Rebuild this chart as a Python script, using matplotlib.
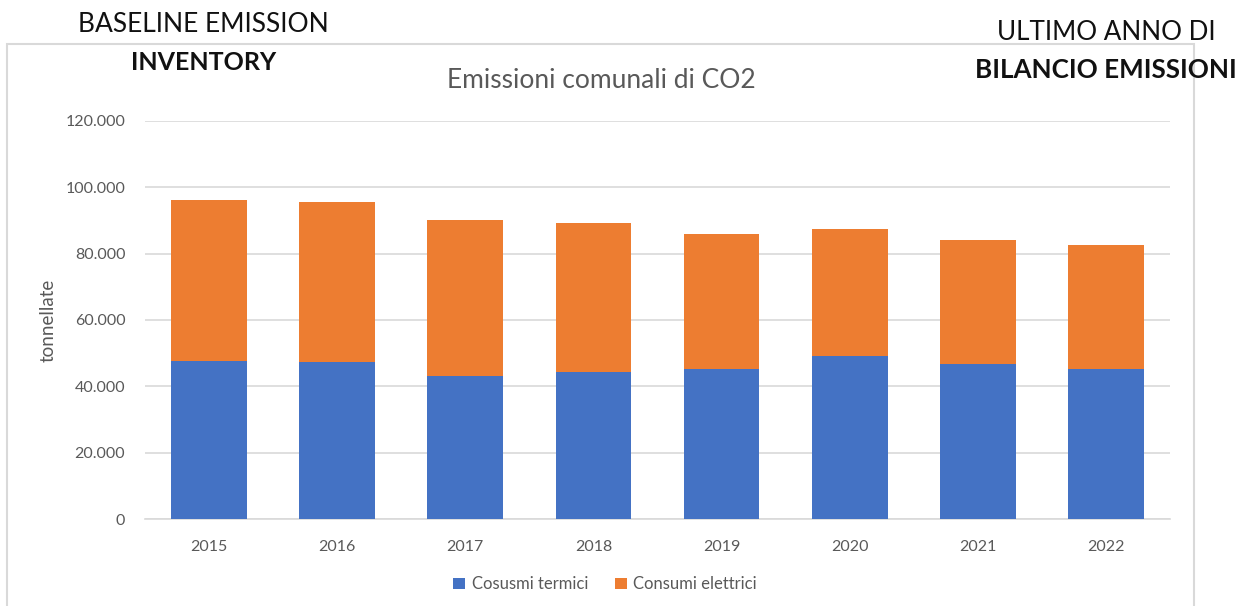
import numpy as np
import matplotlib.pyplot as plt
from matplotlib.ticker import FuncFormatter
from matplotlib.patches import Rectangle

plt.rcParams['font.family'] = ['Lato', 'DejaVu Sans']

# dati (tonnellate di CO2)
anni = ['2015', '2016', '2017', '2018', '2019', '2020', '2021', '2022']
termici = [47650, 47300, 43100, 44300, 45300, 49200, 46700, 45300]
totali = [96100, 95400, 90100, 89300, 86000, 87400, 84000, 82500]
elettrici = [t - b for t, b in zip(totali, termici)]

blu = '#4472C4'
arancio = '#ED7D31'
grigio = '#595959'
griglia = '#D9D9D9'

fig = plt.figure(figsize=(12.37, 6.06), dpi=100)
ax = fig.add_axes([0.117, 0.143, 0.829, 0.658])

x = np.arange(len(anni))
ax.bar(x, termici, width=0.59, color=blu, label='Cosusmi termici', zorder=3)
ax.bar(x, elettrici, width=0.59, bottom=termici, color=arancio,
       label='Consumi elettrici', zorder=3)

ax.set_xlim(-0.5, len(anni) - 0.5)
ax.set_ylim(0, 120000)
ax.set_yticks(np.arange(0, 120001, 20000))
ax.yaxis.set_major_formatter(FuncFormatter(lambda v, p: f'{int(v):,}'.replace(',', '.')))
ax.set_xticks(x)
ax.set_xticklabels(anni)
ax.tick_params(axis='both', length=0, labelsize=11.5, colors=grigio)
ax.tick_params(axis='x', pad=15)
ax.tick_params(axis='y', pad=14)
ax.grid(axis='y', color=griglia, linewidth=1.2, zorder=0)
for s in ['top', 'right', 'left']:
    ax.spines[s].set_visible(False)
ax.spines['bottom'].set_color(griglia)
ax.spines['bottom'].set_linewidth(1.2)

ax.set_ylabel('tonnellate', fontsize=13.5, color=grigio, labelpad=6)
fig.text(0.486, 1 - 81 / 606, 'Emissioni comunali di CO2', fontsize=19, color=grigio,
         ha='center', va='center')

ax.legend(loc='upper center', bbox_to_anchor=(0.449, -0.105), ncol=2, frameon=False,
          fontsize=12, labelcolor=grigio, handlelength=0.7, handleheight=0.7,
          columnspacing=1.6, handletextpad=0.4)

# cornice del grafico
fig.patches.append(Rectangle((7 / 1237, -0.1), (1194 - 7) / 1237, 1.027,
                             transform=fig.transFigure, fill=False,
                             edgecolor=griglia, linewidth=1.5))

# scritte sovrapposte
fig.text(78 / 1237, 1 - 25 / 606, 'BASELINE EMISSION', fontsize=19,
         color='#111111', ha='left', va='center')
fig.text(131 / 1237, 1 - 63 / 606, 'INVENTORY', fontsize=18, fontweight='bold',
         color='#111111', ha='left', va='center')
fig.text(997 / 1237, 1 - 33 / 606, 'ULTIMO ANNO DI', fontsize=18.7,
         color='#111111', ha='left', va='center')
fig.text(975 / 1237, 1 - 70 / 606, 'BILANCIO EMISSIONI', fontsize=18.7,
         fontweight='bold', color='#111111', ha='left', va='center')

fig.savefig('out.png', dpi=100)
